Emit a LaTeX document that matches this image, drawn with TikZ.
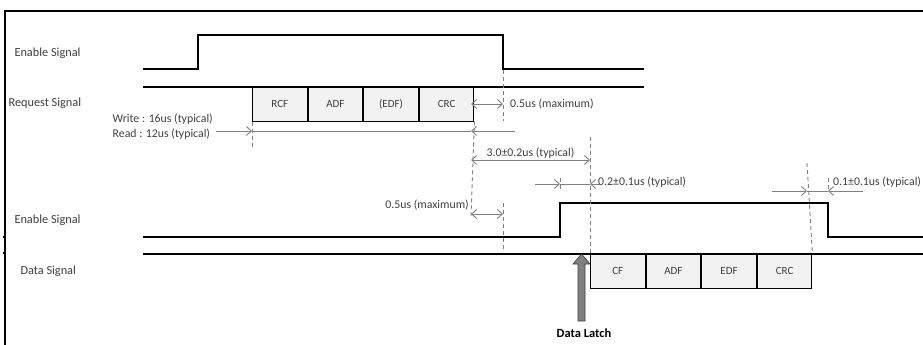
\documentclass[tikz,border=0pt]{standalone}
\usepackage{fontspec}
\setmainfont{Carlito}
\usetikzlibrary{arrows.meta, positioning}
\definecolor{dimgray}{HTML}{808080}
\definecolor{boxgray}{HTML}{F2F2F2}
\definecolor{txtgray}{HTML}{3F3F3F}

\begin{document}
\begin{tikzpicture}[
  x=1pt, y=-1pt,
  wave/.style={line width=1.7pt, black},
  field/.style={draw=black, line width=1pt, fill=boxgray, minimum width=54.6pt,
                minimum height=33.5pt, inner sep=0pt, text=txtgray,
                font=\fontsize{11}{12}\selectfont},
  sig/.style={anchor=west, text=txtgray, font=\fontsize{12.3}{14}\selectfont},
  note/.style={text=txtgray, inner sep=1pt, font=\fontsize{11.8}{14}\selectfont},
  dim/.style={dimgray, line width=0.9pt},
  guide/.style={dimgray, line width=0.9pt, dash pattern=on 4pt off 3pt},
  tip/.style={-{Straight Barb[length=5pt,width=9pt]}},
  both/.style={{Straight Barb[length=5pt,width=9pt]}-{Straight Barb[length=5pt,width=9pt]}},
]
\useasboundingbox (0,0) rectangle (923,345);

% frame
\draw[line width=1.2pt] (5,345) -- (5,11) -- (923,11);
\draw[line width=1.4pt] (3,237) -- (6,237);
\draw[line width=1.4pt] (3,253) -- (6,253);

% signal names
\node[sig] (en1) at (11,53) {Enable Signal};
\node[sig] (req) at (5,103) {Request Signal};
\node[sig] (en2) at (11,220) {Enable Signal};
\node[sig] (dat) at (17,271) {Data Signal};

% waveforms
\draw[wave] (143,69) -- (198,69) -- (198,35) -- (503,35) -- (503,69) -- (644,69);
\draw[wave] (143,87) -- (644,87);
\draw[wave] (143,237) -- (560,237) -- (560,203) -- (828,203) -- (828,237) -- (930,237);
\draw[wave] (143,254) -- (930,254);

% request frame
\node[field, anchor=north west] (rcf) at (252,87) {RCF};
\node[field, right=0pt of rcf] (radf) {ADF};
\node[field, right=0pt of radf] (redf) {(EDF)};
\node[field, right=0pt of redf] (rcrc) {CRC};

% data frame
\node[field, anchor=north west] (dcf) at (590,254) {CF};
\node[field, right=0pt of dcf] (dadf) {ADF};
\node[field, right=0pt of dadf] (dedf) {EDF};
\node[field, right=0pt of dedf] (dcrc) {CRC};

% guides
\draw[guide] (rcf.south west) -- (252,147);
\draw[guide] (503,70) -- (503,121);
\draw[guide] (rcrc.south east) -- (471,216);
\draw[guide] (590,137) -- (dcf.north west);
\draw[guide] (503,203) -- (503,252);
\draw[guide] (560,178) -- (560,191);
\draw[guide] (807,163) -- (dcrc.north east);
\draw[guide] (828,178) -- (828,191);

% request length
\node[note, align=left, anchor=east, font=\fontsize{11.8}{15}\selectfont] (wr) at (214,127)
  {Write : 16us (typical)\\Read : 12us (typical)};
\coordinate (w0) at (216,131);
\coordinate (w1) at (252,131);
\coordinate (w2) at (471,131);
\coordinate (w3) at (515,131);
\draw[dim, tip] (w0) -- (w1);
\draw[dim] (w1) -- (w2);
\draw[dim, tip] (w3) -- (w2);

% 0.5us after request
\coordinate (m0) at (471,104);
\coordinate (m1) at (503,104);
\draw[dim, both] (m0) -- (m1);
\node[note, anchor=west] (max1) at (509,104) {0.5us (maximum)};

% response delay
\coordinate (r0) at (471,160);
\coordinate (r1) at (590,160);
\draw[dim, both] (r0) -- node[note, above=0pt] (typ1) {3.0±0.2us (typical)} (r1);

% enable lead
\coordinate (e0) at (535,184);
\coordinate (e1) at (560,184);
\coordinate (e2) at (590,184);
\coordinate (e3) at (600,184);
\draw[dim, tip] (e0) -- (e1);
\draw[dim] (e1) -- (e2);
\draw[dim, tip] (e3) -- (e2);
\node[note, anchor=west] (typ2) at (597,182) {0.2±0.1us (typical)};

% 0.5us before enable
\coordinate (n0) at (471,214);
\coordinate (n1) at (503,214);
\draw[dim, both] (n0) -- (n1);
\node[note, anchor=east] (max2) at (470,205) {0.5us (maximum)};

% enable tail
\coordinate (f0) at (772,191);
\coordinate (f1) at (807,191);
\coordinate (f2) at (828,191);
\coordinate (f3) at (863,191);
\draw[dim, tip] (f0) -- (f1);
\draw[dim] (f1) -- (f2);
\draw[dim, tip] (f3) -- (f2);
\node[note, anchor=west] (typ3) at (832,182) {0.1±0.1us (typical)};

% data latch
\node[font=\fontsize{12.5}{14}\selectfont\bfseries, inner sep=1pt] (latch) at (584,333) {Data Latch};
\draw[fill=dimgray, draw=black!75, line width=0.7pt]
  (578,321) -- (578,264) -- (573,264) -- (581.5,254) -- (590,264) -- (585,264) -- (585,321) -- cycle;
\end{tikzpicture}
\end{document}
